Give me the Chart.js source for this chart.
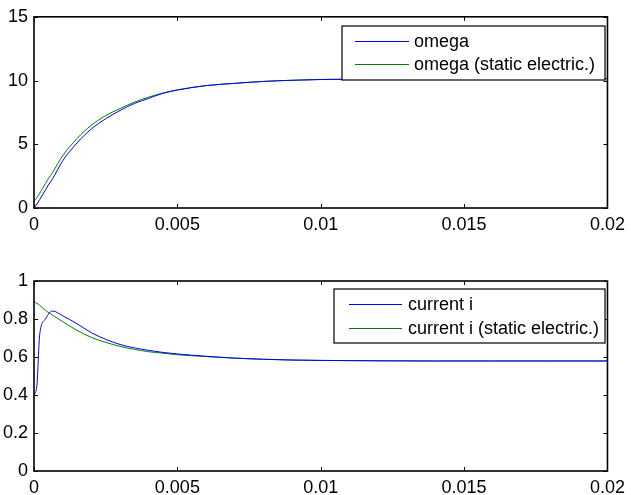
<!DOCTYPE html>
<html>
<head>
<meta charset="utf-8">
<script src="https://cdn.jsdelivr.net/npm/chart.js@4/dist/chart.umd.min.js"></script>
<style>
  html, body { margin: 0; padding: 0; background: #fff; }
  #wrap { position: relative; width: 631px; height: 495px; overflow: hidden; }
  .c { position: absolute; left: 0; }
</style>
</head>
<body>
<div id="wrap">
  <div class="c" style="top:0;width:631px;height:248px"><canvas id="top"></canvas></div>
  <div class="c" style="top:248px;width:631px;height:247px"><canvas id="bot"></canvas></div>
</div>
<script>
// ---- data ----
const timeOmega = [0, 0.0001, 0.0003, 0.0005, 0.00065, 0.001, 0.0015, 0.002, 0.0025, 0.003, 0.0035, 0.004, 0.0045, 0.005, 0.006, 0.007, 0.008, 0.009, 0.01, 0.012, 0.014, 0.016, 0.018, 0.02];
const omega = [0, 0.3, 1.05, 1.8, 2.3, 3.7, 5.1, 6.2, 7.0, 7.65, 8.2, 8.6, 9.0, 9.25, 9.6, 9.78, 9.93, 10.02, 10.08, 10.12, 10.14, 10.15, 10.15, 10.15];
const omegaStatic = [0.55, 0.8, 1.55, 2.3, 2.8, 4.1, 5.45, 6.5, 7.25, 7.8, 8.3, 8.7, 9.02, 9.27, 9.6, 9.78, 9.93, 10.02, 10.08, 10.12, 10.14, 10.15, 10.15, 10.15];

const timeCurrent = [0, 0.0001, 0.0002, 0.0004, 0.00055, 0.00065, 0.001, 0.0015, 0.002, 0.0025, 0.003, 0.0035, 0.004, 0.0045, 0.005, 0.006, 0.007, 0.008, 0.009, 0.01, 0.012, 0.014, 0.016, 0.018, 0.02];
const current = [0.40, 0.45, 0.72, 0.80, 0.835, 0.842, 0.817, 0.775, 0.728, 0.693, 0.666, 0.648, 0.635, 0.624, 0.616, 0.604, 0.594, 0.588, 0.584, 0.582, 0.58, 0.579, 0.579, 0.579, 0.579];
const currentStatic = [0.89, 0.883, 0.872, 0.845, 0.83, 0.82, 0.786, 0.74, 0.703, 0.677, 0.656, 0.64, 0.628, 0.62, 0.612, 0.602, 0.594, 0.588, 0.584, 0.582, 0.58, 0.579, 0.579, 0.579, 0.579];

const xTicks = [0, 0.005, 0.01, 0.015, 0.02];
const yTicksOmega = [0, 5, 10, 15];
const yTicksCurrent = [0, 0.2, 0.4, 0.6, 0.8, 1];

const labelsOmega = ['omega', 'omega (static electric.)'];
const labelsCurrent = ['current i', 'current i (static electric.)'];

const BLUE = '#0000ff';
const GREEN = '#008000';
const FONT = "'Liberation Sans', Arial, sans-serif";
const FSIZE = 18;

function pts(t, v) { return t.map((x, i) => ({ x: x, y: v[i] })); }
function fmt(v) { return String(Number(v.toFixed(4))); }

// Plugin: box around chart area, inward ticks on all four sides, legend box
const matlabAxes = {
  id: 'matlabAxes',
  afterDatasetsDraw(chart, args, opts) {
    const ctx = chart.ctx;
    const a = chart.chartArea;
    const xs = chart.scales.x, ys = chart.scales.y;
    ctx.save();
    ctx.strokeStyle = '#000';
    ctx.lineWidth = 1;
    const tl = 4;
    ctx.beginPath();
    xs.ticks.forEach(t => {
      const px = Math.round(xs.getPixelForValue(t.value)) + 0.5;
      ctx.moveTo(px, a.bottom); ctx.lineTo(px, a.bottom - tl);
      ctx.moveTo(px, a.top); ctx.lineTo(px, a.top + tl);
    });
    ys.ticks.forEach(t => {
      const py = Math.round(ys.getPixelForValue(t.value)) + 0.5;
      ctx.moveTo(a.left, py); ctx.lineTo(a.left + tl, py);
      ctx.moveTo(a.right, py); ctx.lineTo(a.right - tl, py);
    });
    ctx.stroke();
    ctx.lineWidth = 1.6;
    ctx.strokeRect(a.left, a.top, a.right - a.left, a.bottom - a.top);

    // legend
    const L = opts.legend;
    ctx.fillStyle = '#fff';
    ctx.fillRect(L.x, L.y, L.w, L.h);
    ctx.lineWidth = 1.2;
    ctx.strokeStyle = '#000';
    ctx.strokeRect(L.x, L.y, L.w, L.h);
    ctx.font = FSIZE + 'px ' + FONT;
    ctx.textBaseline = 'middle';
    ctx.textAlign = 'left';
    chart.data.datasets.forEach((ds, i) => {
      const y = L.rowY[i];
      ctx.strokeStyle = ds.borderColor;
      ctx.lineWidth = 1;
      ctx.beginPath();
      ctx.moveTo(L.lineX0, y + 0.5); ctx.lineTo(L.lineX1, y + 0.5);
      ctx.stroke();
      ctx.fillStyle = '#000';
      ctx.fillText(ds.label, L.textX, y + 1);
    });
    ctx.restore();
  }
};

function makeChart(id, cfg) {
  return new Chart(document.getElementById(id), {
    type: 'line',
    data: {
      datasets: [
        { label: cfg.labels[0], data: pts(cfg.t, cfg.s1), borderColor: BLUE, borderWidth: 1, pointRadius: 0, cubicInterpolationMode: 'monotone', fill: false },
        { label: cfg.labels[1], data: pts(cfg.t, cfg.s2), borderColor: GREEN, borderWidth: 1, pointRadius: 0, cubicInterpolationMode: 'monotone', fill: false }
      ]
    },
    options: {
      responsive: true,
      maintainAspectRatio: false,
      animation: false,
      events: [],
      layout: { padding: { left: 0, right: 19, top: cfg.padTop, bottom: 0 } },
      plugins: {
        legend: { display: false },
        tooltip: { enabled: false },
        matlabAxes: { legend: cfg.legend }
      },
      scales: {
        x: {
          type: 'linear', min: 0, max: 0.02,
          afterBuildTicks: s => { s.ticks = xTicks.map(v => ({ value: v })); },
          afterFit: s => { s.height = cfg.xH; },
          grid: { display: false, drawTicks: false },
          border: { display: false },
          ticks: { color: '#000', font: { family: FONT, size: FSIZE }, padding: cfg.xPad, maxRotation: 0, callback: v => fmt(v) }
        },
        y: {
          type: 'linear', min: cfg.yMin, max: cfg.yMax,
          afterBuildTicks: s => { s.ticks = cfg.yTicks.map(v => ({ value: v })); },
          afterFit: s => { s.width = 34; },
          grid: { display: false, drawTicks: false },
          border: { display: false },
          ticks: { color: '#000', font: { family: FONT, size: FSIZE }, padding: 6, callback: v => fmt(v) }
        }
      }
    },
    plugins: [matlabAxes]
  });
}

makeChart('top', {
  t: timeOmega, s1: omega, s2: omegaStatic, labels: labelsOmega,
  yMin: 0, yMax: 15, yTicks: yTicksOmega, padTop: 16, xH: 40, xPad: 6,
  legend: { x: 342, y: 26, w: 263, h: 54, rowY: [41, 64], lineX0: 355, lineX1: 409, textX: 414 }
});
makeChart('bot', {
  t: timeCurrent, s1: current, s2: currentStatic, labels: labelsCurrent,
  yMin: 0, yMax: 1, yTicks: yTicksCurrent, padTop: 33, xH: 24, xPad: 6,
  legend: { x: 334, y: 41, w: 271, h: 54, rowY: [56, 80], lineX0: 349, lineX1: 402, textX: 408 }
});
</script>
</body>
</html>
